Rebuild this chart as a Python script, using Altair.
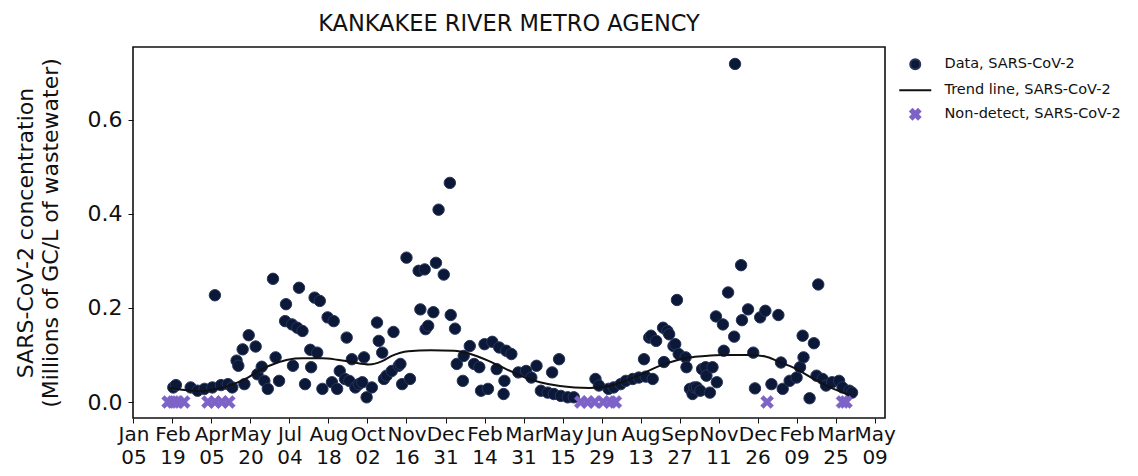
import altair as alt
import pandas as pd

TITLE = "KANKAKEE RIVER METRO AGENCY"
Y_TITLE = ["SARS-CoV-2 concentration", "(Millions of GC/L of wastewater)"]
SERIES = ["Data, SARS-CoV-2", "Trend line, SARS-CoV-2", "Non-detect, SARS-CoV-2"]

data_dates = [
    "2022-02-20", "2022-02-23", "2022-03-12", "2022-03-20", "2022-03-28", "2022-04-06", "2022-04-09",
    "2022-04-16", "2022-04-24", "2022-04-29", "2022-05-04", "2022-05-06", "2022-05-11", "2022-05-13",
    "2022-05-18", "2022-05-26", "2022-05-28", "2022-06-02", "2022-06-05", "2022-06-09", "2022-06-15",
    "2022-06-18", "2022-06-22", "2022-06-29", "2022-06-30", "2022-07-07", "2022-07-08", "2022-07-13",
    "2022-07-15", "2022-07-19", "2022-07-22", "2022-07-28", "2022-07-29", "2022-08-02", "2022-08-05",
    "2022-08-08", "2022-08-11", "2022-08-17", "2022-08-22", "2022-08-24", "2022-08-28", "2022-08-31",
    "2022-09-06", "2022-09-08", "2022-09-11", "2022-09-14", "2022-09-18", "2022-09-22", "2022-09-26",
    "2022-09-28", "2022-10-01", "2022-10-07", "2022-10-13", "2022-10-15", "2022-10-19", "2022-10-21",
    "2022-10-24", "2022-10-30", "2022-11-01", "2022-11-07", "2022-11-09", "2022-11-11", "2022-11-16",
    "2022-11-20", "2022-11-30", "2022-12-02", "2022-12-07", "2022-12-08", "2022-12-11", "2022-12-17",
    "2022-12-20", "2022-12-23", "2022-12-29",
    "2023-01-05", "2023-01-06", "2023-01-11", "2023-01-13", "2023-01-20", "2023-01-21", "2023-01-28",
    "2023-02-02", "2023-02-08", "2023-02-10", "2023-02-14", "2023-02-18", "2023-02-23", "2023-02-28",
    "2023-03-03", "2023-03-08", "2023-03-09", "2023-03-11", "2023-03-17", "2023-03-25", "2023-04-03",
    "2023-04-09", "2023-04-15", "2023-04-20", "2023-04-28", "2023-05-03", "2023-05-05", "2023-05-11",
    "2023-05-13", "2023-05-21", "2023-05-28", "2023-06-22", "2023-06-26", "2023-07-07", "2023-07-13",
    "2023-07-21", "2023-07-27", "2023-08-04", "2023-08-11", "2023-08-17", "2023-08-19", "2023-08-23",
    "2023-08-25", "2023-08-27", "2023-08-31", "2023-09-08", "2023-09-09", "2023-09-13", "2023-09-15",
    "2023-09-20", "2023-09-22", "2023-09-24", "2023-09-26", "2023-10-04", "2023-10-05", "2023-10-09",
    "2023-10-12", "2023-10-14", "2023-10-17", "2023-10-21", "2023-10-23", "2023-10-27", "2023-10-28",
    "2023-11-01", "2023-11-04", "2023-11-08", "2023-11-09", "2023-11-16", "2023-11-17", "2023-11-22",
    "2023-11-29", "2023-11-30", "2023-12-07", "2023-12-08", "2023-12-15", "2023-12-21", "2023-12-23",
    "2023-12-29",
    "2024-01-04", "2024-01-11", "2024-01-19", "2024-01-22", "2024-01-24", "2024-02-01", "2024-02-09",
    "2024-02-13", "2024-02-16", "2024-02-17", "2024-02-24", "2024-02-29", "2024-03-03", "2024-03-05",
    "2024-03-10", "2024-03-14", "2024-03-21", "2024-03-29", "2024-04-02", "2024-04-10", "2024-04-13",
]
data_values = [
    0.031, 0.036, 0.031, 0.024, 0.028, 0.031, 0.227,
    0.036, 0.038, 0.031, 0.088, 0.077, 0.112, 0.038,
    0.142, 0.118, 0.059, 0.075, 0.045, 0.028, 0.262,
    0.095, 0.045, 0.172, 0.208, 0.165, 0.077, 0.158,
    0.243, 0.151, 0.038, 0.111, 0.074, 0.222, 0.105,
    0.215, 0.028, 0.180, 0.042, 0.172, 0.028, 0.066,
    0.049, 0.137, 0.045, 0.091, 0.031, 0.038, 0.042,
    0.095, 0.010, 0.031, 0.169, 0.130, 0.105, 0.049,
    0.056, 0.066, 0.149, 0.077, 0.081, 0.038, 0.307,
    0.049, 0.279, 0.197, 0.282, 0.155, 0.162, 0.191,
    0.296, 0.409, 0.271,
    0.466, 0.185, 0.156, 0.081, 0.045, 0.098, 0.119,
    0.081, 0.074, 0.024, 0.123, 0.028, 0.128, 0.070,
    0.116, 0.017, 0.045, 0.109, 0.102, 0.063, 0.066,
    0.052, 0.077, 0.024, 0.020, 0.063, 0.017, 0.091,
    0.013, 0.010, 0.010, 0.049, 0.035, 0.028, 0.031,
    0.038, 0.045, 0.049, 0.052, 0.091, 0.054, 0.137,
    0.141, 0.049, 0.130, 0.158, 0.085, 0.151, 0.144,
    0.119, 0.123, 0.217, 0.102, 0.095, 0.074, 0.028,
    0.017, 0.031, 0.031, 0.024, 0.070, 0.074, 0.056,
    0.020, 0.074, 0.182, 0.042, 0.165, 0.109, 0.233,
    0.139, 0.719, 0.291, 0.174, 0.197, 0.105, 0.029,
    0.180,
    0.194, 0.038, 0.185, 0.084, 0.028, 0.045, 0.052,
    0.074, 0.141, 0.095, 0.008, 0.125, 0.056, 0.250,
    0.049, 0.035, 0.042, 0.045, 0.031, 0.024, 0.020,
]

nd_dates = [
    "2022-02-14", "2022-02-20", "2022-02-25", "2022-03-04",
    "2022-04-01", "2022-04-09", "2022-04-17", "2022-04-25",
    "2023-06-05", "2023-06-13", "2023-06-21", "2023-07-01", "2023-07-09", "2023-07-15",
    "2024-01-06", "2024-04-02", "2024-04-06",
]
nd_values = [
    0.0, 0.0, 0.0, 0.0,
    0.0, 0.0, 0.0, 0.0,
    0.0, 0.0, 0.0, 0.0, 0.0, 0.0,
    0.0, 0.0, 0.0,
]

trend_dates = [
    "2022-02-15", "2022-03-09", "2022-03-23", "2022-04-12", "2022-04-29", "2022-05-17", "2022-05-31",
    "2022-06-19", "2022-07-02", "2022-07-19", "2022-08-11", "2022-08-28", "2022-09-14", "2022-10-04",
    "2022-10-19", "2022-10-30", "2022-11-18", "2022-12-14", "2023-01-10", "2023-01-27", "2023-02-18",
    "2023-03-04", "2023-03-18", "2023-04-02", "2023-04-19", "2023-05-12", "2023-05-29", "2023-06-15",
    "2023-07-08", "2023-07-25", "2023-08-15", "2023-09-04", "2023-09-24", "2023-10-09", "2023-10-26",
    "2023-11-16", "2023-12-16", "2024-01-04", "2024-01-19", "2024-02-08", "2024-02-26", "2024-03-20",
    "2024-04-11",
]
trend_values = [
    0.030, 0.025, 0.023, 0.028, 0.037, 0.052, 0.068,
    0.083, 0.090, 0.093, 0.093, 0.090, 0.085, 0.080,
    0.087, 0.098, 0.108, 0.110, 0.109, 0.103, 0.088,
    0.076, 0.064, 0.052, 0.042, 0.034, 0.031, 0.030,
    0.034, 0.044, 0.060, 0.077, 0.089, 0.095, 0.098,
    0.100, 0.100, 0.097, 0.086, 0.071, 0.052, 0.030,
    0.014,
]

tick_dates = [
    "2022-01-05", "2022-02-19", "2022-04-05", "2022-05-20", "2022-07-04", "2022-08-18", "2022-10-02",
    "2022-11-16", "2022-12-31", "2023-02-14", "2023-03-31", "2023-05-15", "2023-06-29", "2023-08-13",
    "2023-09-27", "2023-11-11", "2023-12-26", "2024-02-09", "2024-03-25", "2024-05-09",
]
y_ticks = [0.0, 0.2, 0.4, 0.6]

FONT = "DejaVu Sans"
NAVY = "#0b1838"
NAVY_EDGE = "#27355a"
PURPLE = "#7d63c7"
X_PATH = "M-1,-0.55L-0.55,-1L0,-0.45L0.55,-1L1,-0.55L0.45,0L1,0.55L0.55,1L0,0.45L-0.55,1L-1,0.55L-0.45,0Z"
LINE_PATH = "M-3.2,0L3.2,0"


def dt(s, hours=0):
    return alt.DateTime(year=int(s[:4]), month=int(s[5:7]), date=int(s[8:10]), hours=hours, utc=True)


pts = pd.DataFrame({"date": data_dates, "value": data_values, "series": SERIES[0]})
nds = pd.DataFrame({"date": nd_dates, "value": nd_values, "series": SERIES[2]})
trd = pd.DataFrame({"date": trend_dates, "value": trend_values, "series": SERIES[1]})

x_enc = alt.X(
    "date:T",
    scale=alt.Scale(type="utc", domain=[dt("2022-01-04", 12), dt("2024-05-21", 0)]),
    axis=alt.Axis(
        values=[dt(s) for s in tick_dates],
        labelExpr="[utcFormat(datum.value, '%b'), utcFormat(datum.value, '%d')]",
        labelOverlap=False,
        labelFontSize=20,
        labelLineHeight=23,
        labelPadding=1,
        labelFlush=False,
        labelBound=False,
        tickSize=5,
        grid=False,
        domain=False,
        title=None,
    ),
)
y_enc = alt.Y(
    "value:Q",
    scale=alt.Scale(domain=[-0.034, 0.755], nice=False, zero=False),
    axis=alt.Axis(
        values=y_ticks,
        format=".1f",
        labelFontSize=22,
        labelPadding=6,
        tickSize=5,
        grid=False,
        domain=False,
        title=Y_TITLE,
        titleFontSize=22,
        titleFontWeight="normal",
        titleLineHeight=25,
        titlePadding=25,
    ),
)

fill_scale = alt.Scale(domain=SERIES, range=[NAVY, "#111111", PURPLE])
stroke_scale = alt.Scale(domain=SERIES, range=[NAVY_EDGE, "#111111", PURPLE])
shape_scale = alt.Scale(domain=SERIES, range=["circle", LINE_PATH, X_PATH])
legend = alt.Legend(
    orient="none",
    legendX=775,
    legendY=10,
    title=None,
    labelFont=FONT,
    labelFontSize=14.5,
    labelColor="#111111",
    labelLimit=400,
    symbolSize=100,
    symbolStrokeWidth=2,
    labelOffset=22,
    rowPadding=8,
    padding=0,
)

points = alt.Chart(pts).mark_point(filled=True, size=130, strokeWidth=1, opacity=1).encode(
    x=x_enc,
    y=y_enc,
    fill=alt.Fill("series:N", scale=fill_scale, legend=legend),
    stroke=alt.Stroke("series:N", scale=stroke_scale, legend=legend),
    shape=alt.Shape("series:N", scale=shape_scale, legend=legend),
)
trend = alt.Chart(trd).mark_line(strokeWidth=2, interpolate="monotone").encode(
    x=x_enc,
    y=y_enc,
    stroke=alt.Stroke("series:N", scale=stroke_scale, legend=legend),
)
nondetect = alt.Chart(nds).mark_point(filled=True, size=170, strokeWidth=0.5, opacity=1).encode(
    x=x_enc,
    y=y_enc,
    fill=alt.Fill("series:N", scale=fill_scale, legend=legend),
    stroke=alt.Stroke("series:N", scale=stroke_scale, legend=legend),
    shape=alt.Shape("series:N", scale=shape_scale, legend=legend),
)

chart = (
    alt.layer(points, trend, nondetect)
    .properties(
        width=752,
        height=371,
        title=alt.TitleParams(TITLE, font=FONT, fontSize=22.5, fontWeight="normal", color="#111111", offset=12),
        autosize=alt.AutoSizeParams(type="none"),
        padding={"left": 125, "top": 39, "right": 245, "bottom": 50},
    )
    .configure(font=FONT)
    .configure_view(stroke="#111111", strokeWidth=1.6)
    .configure_axis(
        labelFont=FONT,
        titleFont=FONT,
        labelColor="#111111",
        titleColor="#111111",
        tickColor="#111111",
    )
)

chart.save("out.html", embed_options={"renderer": "svg", "actions": False})
